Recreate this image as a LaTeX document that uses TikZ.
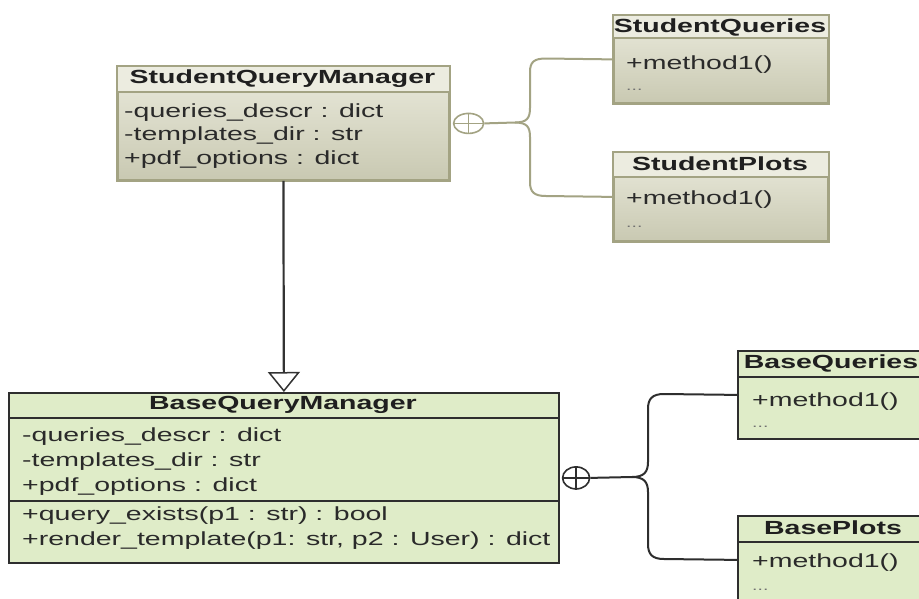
\documentclass[tikz,border=0pt]{standalone}
\usepackage{fontspec}
\newfontfamily\umlfont{Liberation Sans}[FakeStretch=1.5]
\usetikzlibrary{arrows.meta,shapes.geometric}

\definecolor{stuborder}{HTML}{A3A383}
\definecolor{stutop}{HTML}{EAEADC}
\definecolor{stubot}{HTML}{C9C9B2}
\definecolor{stuhead}{HTML}{ECECE0}
\definecolor{basefill}{HTML}{DFECC8}
\definecolor{baseborder}{HTML}{2E2E2E}
\definecolor{txtgray}{HTML}{2A2A2A}
\definecolor{dotgray}{HTML}{707070}

\tikzset{
  stubox/.style={draw=stuborder, line width=1.8pt, top color=stutop, bottom color=stubot,
    rectangle, inner sep=0pt, anchor=north west},
  basebox/.style={draw=baseborder, line width=1.8pt, fill=basefill,
    rectangle, inner sep=0pt, anchor=north west},
  stusep/.style={draw=stuborder, line width=1.5pt},
  basesep/.style={draw=baseborder, line width=1.5pt},
  hdr/.style={inner sep=0pt, text=black!88, font=\umlfont\bfseries\fontsize{19}{23}\selectfont},
  mem/.style={anchor=west, inner sep=0pt, text=txtgray, font=\umlfont\fontsize{19}{23}\selectfont},
  dots/.style={anchor=west, inner sep=0pt, text=dotgray, font=\umlfont\fontsize{13}{16}\selectfont},
  nestmark/.style={ellipse, draw, fill=white, inner sep=0pt},
  stuconn/.style={draw=stuborder, line width=2pt},
  baseconn/.style={draw=baseborder, line width=2pt},
  genline/.style={draw=black!80, line width=2.2pt, -{Triangle[open, length=20pt, width=32pt, line width=1.5pt, fill=white]}},
}

\begin{document}
\begin{tikzpicture}[x=1pt, y=-1pt]
\useasboundingbox (0,0) rectangle (919,598);
\clip (0,0) rectangle (919,598);
\fill[white] (0,0) rectangle (919,598);

% ---------- StudentQueryManager ----------
\node[stubox, minimum width=331pt, minimum height=113pt] (sqm) at (117,66) {};
\fill[stuhead] ([shift={(0.9pt,-0.9pt)}]sqm.north west) rectangle ([shift={(-0.9pt,-26pt)}]sqm.north east);
\draw[stusep] ([yshift=-26pt]sqm.north west) -- ([yshift=-26pt]sqm.north east);
\draw[draw=stuborder, line width=1.8pt] (sqm.north west) rectangle (sqm.south east);
\node[hdr] (sqmh) at (282.5,79) {StudentQueryManager};
\node[mem] (sqm1) at (124,113) {-queries\_descr : dict};
\node[mem] (sqm2) at (124,136) {-templates\_dir : str};
\node[mem] (sqm3) at (124,160) {+pdf\_options : dict};

% ---------- StudentQueries ----------
\node[stubox, minimum width=214pt, minimum height=87pt] (sq) at (613,15) {};
\fill[stuhead] ([shift={(0.9pt,-0.9pt)}]sq.north west) rectangle ([shift={(-0.9pt,-23pt)}]sq.north east);
\draw[stusep] ([yshift=-23pt]sq.north west) -- ([yshift=-23pt]sq.north east);
\draw[draw=stuborder, line width=1.8pt] (sq.north west) rectangle (sq.south east);
\node[hdr] (sqh) at (720,27) {StudentQueries};
\node[mem] (sqmeth) at (626,65) {+method1()};
\node[dots] (sqd) at (626,90) {...};

% ---------- StudentPlots ----------
\node[stubox, minimum width=214pt, minimum height=88pt] (sp) at (613,152) {};
\fill[stuhead] ([shift={(0.9pt,-0.9pt)}]sp.north west) rectangle ([shift={(-0.9pt,-25pt)}]sp.north east);
\draw[stusep] ([yshift=-25pt]sp.north west) -- ([yshift=-25pt]sp.north east);
\draw[draw=stuborder, line width=1.8pt] (sp.north west) rectangle (sp.south east);
\node[hdr] (sph) at (720,164) {StudentPlots};
\node[mem] (spmeth) at (626,200) {+method1()};
\node[dots] (spd) at (626,227) {...};

% ---------- BaseQueryManager ----------
\node[basebox, minimum width=550pt, minimum height=170pt] (bqm) at (8,392) {};
\draw[basesep] ([yshift=-26pt]bqm.north west) -- ([yshift=-26pt]bqm.north east);
\draw[basesep] ([yshift=-109pt]bqm.north west) -- ([yshift=-109pt]bqm.north east);
\node[hdr] (bqmh) at (283,405) {BaseQueryManager};
\node[mem] (bqm1) at (22,437) {-queries\_descr : dict};
\node[mem] (bqm2) at (22,462) {-templates\_dir : str};
\node[mem] (bqm3) at (22,487) {+pdf\_options : dict};
\node[mem] (bqm4) at (22,516) {+query\_exists(p1 : str) : bool};
\node[mem] (bqm5) at (22,541) {+render\_template(p1: str, p2 : User) : dict};

% ---------- BaseQueries ----------
\node[basebox, minimum width=194pt, minimum height=88pt] (bq) at (737,350) {};
\draw[basesep] ([yshift=-27pt]bq.north west) -- ([yshift=-27pt]bq.north east);
\node[hdr] (bqh) at (831,363) {BaseQueries};
\node[mem] (bqmeth) at (752,402) {+method1()};
\node[dots] (bqd) at (752,427) {...};

% ---------- BasePlots ----------
\node[basebox, minimum width=194pt, minimum height=88pt] (bp) at (737,515) {};
\draw[basesep] ([yshift=-27pt]bp.north west) -- ([yshift=-27pt]bp.north east);
\node[hdr] (bph) at (833,528) {BasePlots};
\node[mem] (bpmeth) at (752,563) {+method1()};
\node[dots] (bpd) at (752,590) {...};

% ---------- generalization ----------
\draw[genline] (sqm.south) -- (bqm.north);

% ---------- nesting (student side) ----------
\node[nestmark, draw=stuborder, line width=1.6pt, minimum width=30pt, minimum height=20pt,
      anchor=west] (sqmn) at ([xshift=3pt]sqm.east) {};
\draw[stuborder, line width=1.4pt] (sqmn.west) -- (sqmn.east) (sqmn.north) -- (sqmn.south);
\coordinate (sqbr) at (515,122.5);
\draw[stuconn] (sqmn.east) -- (sqbr)
  .. controls (527,122.5) and (530,118) .. (530,108) -- (530,72)
  .. controls (530,62) and (534,58.5) .. (546,58.5) -- (sq.west);
\draw[stuconn] (sqbr)
  .. controls (527,122.5) and (530,127) .. (530,137) -- (530,182)
  .. controls (530,192) and (534,196) .. (546,196) -- (sp.west);

% ---------- nesting (base side) ----------
\node[nestmark, draw=baseborder, line width=1.6pt, minimum width=27pt, minimum height=22pt,
      anchor=west] (bqmn) at ([xshift=2pt]bqm.east) {};
\draw[baseborder, line width=1.4pt] (bqmn.west) -- (bqmn.east) (bqmn.north) -- (bqmn.south);
\coordinate (bqbr) at (632,477);
\draw[baseconn] (bqmn.east) -- (bqbr)
  .. controls (644,477) and (648,472) .. (648,462) -- (648,409)
  .. controls (648,399) and (652,394) .. (664,394) -- (bq.west);
\draw[baseconn] (bqbr)
  .. controls (644,477) and (648,482) .. (648,492) -- (648,544)
  .. controls (648,554) and (652,559) .. (664,559) -- (bp.west);
\end{tikzpicture}
\end{document}
